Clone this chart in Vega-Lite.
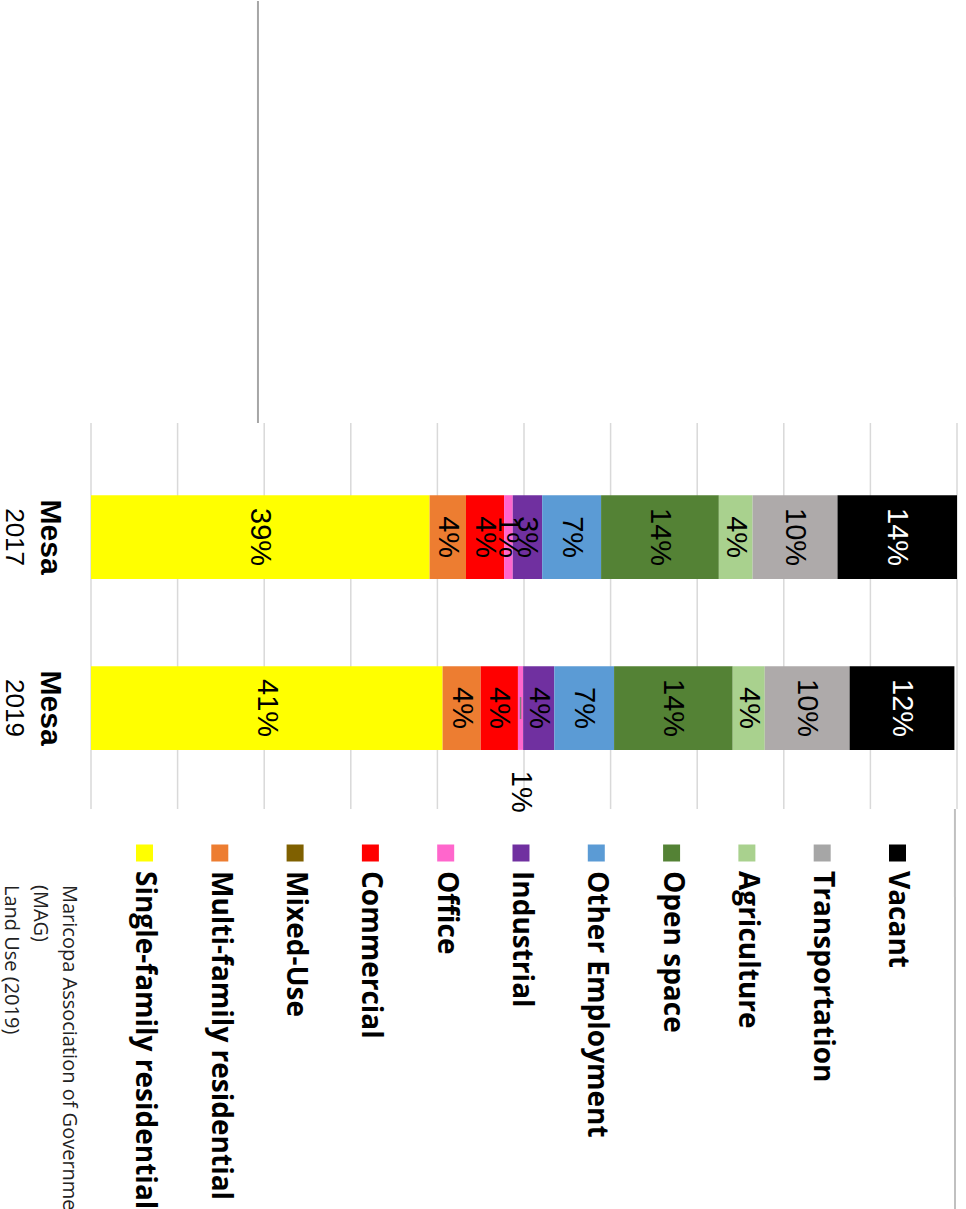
{
  "$schema": "https://vega.github.io/schema/vega-lite/v6.json",
  "padding": 0,
  "spacing": 0,
  "bounds": "flush",
  "background": "white",
  "config": {"view": {"stroke": null}},
  "resolve": {"scale": {"x": "independent", "y": "independent", "color": "independent"}},
  "datasets": {
    "landuse": [
      {"year": "Mesa 2017", "cat": "Single-family residential", "idx": 1, "v": 0.391, "outside": false},
      {"year": "Mesa 2017", "cat": "Multi-family residential", "idx": 2, "v": 0.042, "outside": false},
      {"year": "Mesa 2017", "cat": "Mixed-Use", "idx": 3, "v": 0, "outside": false},
      {"year": "Mesa 2017", "cat": "Commercial", "idx": 4, "v": 0.044, "outside": false},
      {"year": "Mesa 2017", "cat": "Office", "idx": 5, "v": 0.010, "outside": false},
      {"year": "Mesa 2017", "cat": "Industrial", "idx": 6, "v": 0.034, "outside": false},
      {"year": "Mesa 2017", "cat": "Other Employment", "idx": 7, "v": 0.068, "outside": false},
      {"year": "Mesa 2017", "cat": "Open space", "idx": 8, "v": 0.136, "outside": false},
      {"year": "Mesa 2017", "cat": "Agriculture", "idx": 9, "v": 0.039, "outside": false},
      {"year": "Mesa 2017", "cat": "Transportation", "idx": 10, "v": 0.098, "outside": false},
      {"year": "Mesa 2017", "cat": "Vacant", "idx": 11, "v": 0.138, "outside": false},
      {"year": "Mesa 2019", "cat": "Single-family residential", "idx": 1, "v": 0.406, "outside": false},
      {"year": "Mesa 2019", "cat": "Multi-family residential", "idx": 2, "v": 0.044, "outside": false},
      {"year": "Mesa 2019", "cat": "Mixed-Use", "idx": 3, "v": 0, "outside": false},
      {"year": "Mesa 2019", "cat": "Commercial", "idx": 4, "v": 0.043, "outside": false},
      {"year": "Mesa 2019", "cat": "Office", "idx": 5, "v": 0.006, "outside": true},
      {"year": "Mesa 2019", "cat": "Industrial", "idx": 6, "v": 0.036, "outside": false},
      {"year": "Mesa 2019", "cat": "Other Employment", "idx": 7, "v": 0.069, "outside": false},
      {"year": "Mesa 2019", "cat": "Open space", "idx": 8, "v": 0.137, "outside": false},
      {"year": "Mesa 2019", "cat": "Agriculture", "idx": 9, "v": 0.037, "outside": false},
      {"year": "Mesa 2019", "cat": "Transportation", "idx": 10, "v": 0.098, "outside": false},
      {"year": "Mesa 2019", "cat": "Vacant", "idx": 11, "v": 0.121, "outside": false}
    ],
    "ticks": [
      {"t": 0}, {"t": 0.1}, {"t": 0.2}, {"t": 0.3}, {"t": 0.4}, {"t": 0.5},
      {"t": 0.6}, {"t": 0.7}, {"t": 0.8}, {"t": 0.9}, {"t": 1}
    ],
    "places": [
      {"year": "Mesa 2017", "place": "Mesa", "yr": "2017"},
      {"year": "Mesa 2019", "place": "Mesa", "yr": "2019"}
    ],
    "legend": [
      {"cat": "Single-family residential", "idx": 1},
      {"cat": "Multi-family residential", "idx": 2},
      {"cat": "Mixed-Use", "idx": 3},
      {"cat": "Commercial", "idx": 4},
      {"cat": "Office", "idx": 5},
      {"cat": "Industrial", "idx": 6},
      {"cat": "Other Employment", "idx": 7},
      {"cat": "Open space", "idx": 8},
      {"cat": "Agriculture", "idx": 9},
      {"cat": "Transportation", "idx": 10},
      {"cat": "Vacant", "idx": 11}
    ]
  },
  "vconcat": [
    {
      "width": 966,
      "height": 422,
      "data": {"values": [{}]},
      "mark": {"type": "rule", "color": "#a6a6a6", "strokeWidth": 2},
      "encoding": {
        "x": {"datum": 0.1928, "type": "quantitative", "scale": {"domain": [-0.10508, 1.01039], "nice": false}, "axis": null}
      }
    },
    {
      "width": 966,
      "height": 386,
      "layer": [
        {
          "data": {"name": "ticks"},
          "mark": {"type": "rule", "color": "#d9d9d9", "strokeWidth": 1.5},
          "encoding": {
            "x": {"field": "t", "type": "quantitative", "scale": {"domain": [-0.10508, 1.01039], "nice": false}, "axis": null}
          }
        },
        {
          "data": {"name": "landuse"},
          "mark": {"type": "bar"},
          "encoding": {
            "x": {"field": "v", "type": "quantitative", "stack": "zero", "axis": null},
            "y": {
              "field": "year", "type": "nominal", "axis": null,
              "scale": {"domain": ["Mesa 2017", "Mesa 2019"], "paddingInner": 0.51, "paddingOuter": 0.384, "align": 0.55}
            },
            "color": {
              "field": "cat", "type": "nominal", "legend": null,
              "scale": {
                "domain": ["Single-family residential", "Multi-family residential", "Mixed-Use", "Commercial", "Office", "Industrial", "Other Employment", "Open space", "Agriculture", "Transportation", "Vacant"],
                "range": ["#ffff00", "#ed7d31", "#7f6000", "#ff0000", "#ff66cc", "#7030a0", "#5b9bd5", "#548235", "#a9d18e", "#aeaaaa", "#000000"]
              }
            },
            "order": {"field": "idx", "type": "quantitative"}
          }
        },
        {
          "data": {"name": "landuse"},
          "mark": {"type": "text", "angle": 90, "align": "center", "baseline": "middle", "font": "Liberation Sans", "fontSize": 29},
          "encoding": {
            "x": {"field": "v", "type": "quantitative", "stack": "zero", "bandPosition": 0.5},
            "y": {"field": "year", "type": "nominal"},
            "detail": {"field": "cat"},
            "order": {"field": "idx", "type": "quantitative"},
            "text": {"condition": {"test": "datum.outside || datum.v == 0", "value": ""}, "field": "v", "type": "quantitative", "format": ".0%"},
            "color": {"condition": {"test": "datum.cat == 'Vacant'", "value": "#ffffff"}, "value": "#000000"}
          }
        },
        {
          "data": {"name": "landuse"},
          "mark": {"type": "text", "angle": 90, "align": "left", "baseline": "middle", "font": "Liberation Sans", "fontSize": 29, "color": "#000000"},
          "encoding": {
            "x": {"field": "v", "type": "quantitative", "stack": "zero", "bandPosition": 0.5},
            "y": {"field": "year", "type": "nominal", "bandPosition": 1.25},
            "detail": {"field": "cat"},
            "order": {"field": "idx", "type": "quantitative"},
            "text": {"condition": {"test": "datum.outside", "field": "v", "type": "quantitative", "format": ".0%"}, "value": ""}
          }
        },
        {
          "data": {"name": "landuse"},
          "mark": {"type": "tick", "orient": "vertical", "size": 22, "thickness": 1.5, "color": "#7f7f7f"},
          "encoding": {
            "x": {"field": "v", "type": "quantitative", "stack": "zero", "bandPosition": 0.5},
            "y": {"field": "year", "type": "nominal", "bandPosition": 1.12},
            "detail": {"field": "cat"},
            "order": {"field": "idx", "type": "quantitative"},
            "opacity": {"condition": {"test": "datum.outside", "value": 1}, "value": 0}
          }
        },
        {
          "data": {"name": "places"},
          "mark": {"type": "text", "angle": 90, "align": "center", "baseline": "middle", "font": "Liberation Sans", "fontSize": 30, "fontWeight": "bold", "color": "#000000"},
          "encoding": {
            "x": {"datum": -0.0473, "type": "quantitative"},
            "y": {"field": "year", "type": "nominal"},
            "text": {"field": "place"}
          }
        },
        {
          "data": {"name": "places"},
          "mark": {"type": "text", "angle": 90, "align": "center", "baseline": "middle", "font": "Liberation Sans", "fontSize": 26, "color": "#000000"},
          "encoding": {
            "x": {"datum": -0.0889, "type": "quantitative"},
            "y": {"field": "year", "type": "nominal"},
            "text": {"field": "yr"}
          }
        }
      ]
    },
    {
      "width": 966,
      "height": 88,
      "layer": [
        {
          "data": {"values": [{}]},
          "mark": {"type": "rule", "color": "#c0c0c0", "strokeWidth": 2},
          "encoding": {
            "x": {"datum": 11.763, "type": "quantitative", "scale": {"domain": [-0.919, 11.910], "nice": false, "zero": false}, "axis": null}
          }
        },
        {
          "data": {"name": "legend"},
          "mark": {"type": "square", "size": 289, "opacity": 1},
          "encoding": {
            "x": {"field": "idx", "type": "quantitative"},
            "color": {
              "field": "cat", "type": "nominal", "legend": null,
              "scale": {
                "domain": ["Single-family residential", "Multi-family residential", "Mixed-Use", "Commercial", "Office", "Industrial", "Other Employment", "Open space", "Agriculture", "Transportation", "Vacant"],
                "range": ["#ffff00", "#ed7d31", "#7f6000", "#ff0000", "#ff66cc", "#7030a0", "#5b9bd5", "#548235", "#a9d18e", "#a6a6a6", "#000000"]
              }
            }
          }
        },
        {
          "data": {"name": "legend"},
          "mark": {"type": "text", "angle": 90, "align": "left", "baseline": "middle", "dx": 18, "font": "Open Sans", "fontWeight": "bold", "fontSize": 28, "color": "#000000"},
          "encoding": {
            "x": {"field": "idx", "type": "quantitative"},
            "text": {"field": "cat"}
          }
        },
        {
          "data": {"values": [{}]},
          "mark": {"type": "text", "angle": 90, "align": "left", "baseline": "top", "dx": 32, "font": "Open Sans", "fontSize": 20, "lineHeight": 29, "color": "#222222"},
          "encoding": {
            "x": {"datum": 0.131, "type": "quantitative"},
            "text": {"value": ["Maricopa Association of Governme", "(MAG)", "Land Use (2019)"]}
          }
        }
      ]
    },
    {
      "width": 966,
      "height": 313,
      "data": {"values": [{}]},
      "mark": {"type": "rule", "color": "#c0c0c0", "strokeWidth": 2},
      "encoding": {
        "x": {"datum": 0.9977, "type": "quantitative", "scale": {"domain": [-0.10508, 1.01039], "nice": false}, "axis": null}
      }
    }
  ]
}
